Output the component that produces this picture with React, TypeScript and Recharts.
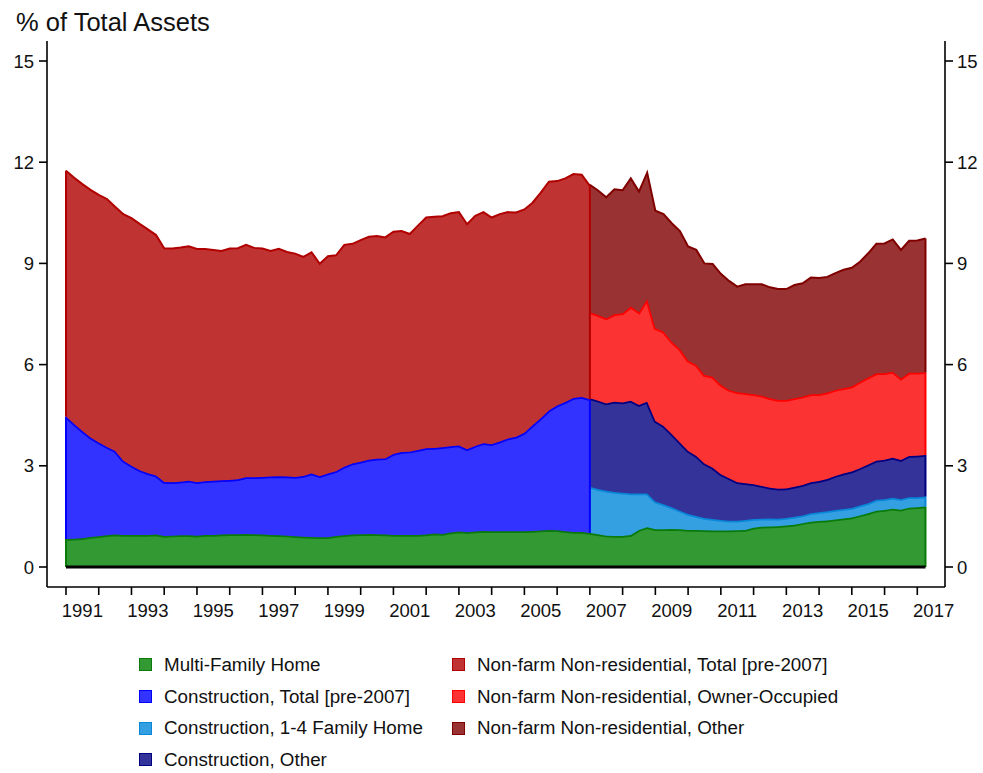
import { Area, AreaChart, ReferenceLine, XAxis, YAxis } from "recharts";

// quarterly shares of total assets (%), 1991Q1 .. 2017Q2
const START_YEAR = 1991;
const SPLIT_INDEX = 64; // 2007Q1, where the detailed breakdown begins

const yearTicks = [
  1991, 1992, 1993, 1994, 1995, 1996, 1997, 1998, 1999, 2000, 2001, 2002, 2003, 2004,
  2005, 2006, 2007, 2008, 2009, 2010, 2011, 2012, 2013, 2014, 2015, 2016, 2017,
];
const valueTicks = [0, 3, 6, 9, 12, 15];

const multiFamily = [
  0.83, 0.84, 0.85, 0.89, 0.91, 0.94, 0.96, 0.95, 0.95, 0.95,
  0.95, 0.96, 0.92, 0.93, 0.94, 0.94, 0.93, 0.95, 0.95, 0.96,
  0.97, 0.97, 0.98, 0.97, 0.96, 0.95, 0.94, 0.93, 0.91, 0.9,
  0.89, 0.88, 0.88, 0.92, 0.94, 0.96, 0.97, 0.98, 0.97, 0.96,
  0.95, 0.95, 0.95, 0.95, 0.96, 0.99, 0.98, 1.02, 1.05, 1.03,
  1.05, 1.07, 1.06, 1.06, 1.06, 1.06, 1.06, 1.07, 1.08, 1.1,
  1.09, 1.06, 1.04, 1.04, 1.01,
  0.97, 0.93, 0.92, 0.92, 0.95, 1.1, 1.18, 1.12, 1.12, 1.13,
  1.12, 1.1, 1.1, 1.09, 1.08, 1.08, 1.08, 1.09, 1.1, 1.16,
  1.19, 1.2, 1.21, 1.23, 1.25, 1.3, 1.34, 1.36, 1.38, 1.41,
  1.44, 1.47, 1.53, 1.59, 1.67, 1.69, 1.73, 1.7, 1.76, 1.77, 1.79,
];

// pre-2007 series (1991Q1 .. 2007Q1)
const constructionTotal = [
  3.63, 3.4, 3.18, 2.95, 2.78, 2.62, 2.48, 2.2, 2.05, 1.92,
  1.83, 1.75, 1.6, 1.58, 1.59, 1.62, 1.58, 1.59, 1.61, 1.61,
  1.61, 1.63, 1.68, 1.69, 1.71, 1.73, 1.75, 1.75, 1.76, 1.8,
  1.88, 1.81, 1.89, 1.92, 2.03, 2.11, 2.15, 2.2, 2.24, 2.26,
  2.4, 2.46, 2.47, 2.52, 2.56, 2.54, 2.57, 2.56, 2.55, 2.46,
  2.54, 2.6, 2.58, 2.66, 2.75, 2.8, 2.92, 3.13, 3.33, 3.54,
  3.7, 3.83, 3.97, 4.0, 3.96,
];
const nonfarmTotal = [
  7.29, 7.3, 7.32, 7.34, 7.34, 7.35, 7.24, 7.31, 7.34, 7.3,
  7.23, 7.13, 6.93, 6.93, 6.94, 6.95, 6.92, 6.89, 6.84, 6.8,
  6.86, 6.85, 6.89, 6.8, 6.77, 6.69, 6.74, 6.66, 6.62, 6.49,
  6.56, 6.3, 6.44, 6.4, 6.58, 6.51, 6.57, 6.61, 6.6, 6.55,
  6.59, 6.55, 6.45, 6.65, 6.84, 6.85, 6.85, 6.91, 6.92, 6.67,
  6.82, 6.85, 6.72, 6.74, 6.71, 6.65, 6.62, 6.6, 6.69, 6.78,
  6.65, 6.63, 6.64, 6.59, 6.33,
];

// 2007Q1 onwards
const constructionHome = [
  1.37, 1.34, 1.33, 1.3, 1.28, 1.23, 1.08, 1.0, 0.82, 0.74,
  0.64, 0.55, 0.47, 0.41, 0.36, 0.34, 0.31, 0.29, 0.28, 0.29,
  0.26, 0.24, 0.24, 0.22, 0.22, 0.24, 0.23, 0.25, 0.26, 0.27,
  0.28, 0.28, 0.28, 0.29, 0.3, 0.32, 0.32, 0.32, 0.31, 0.31,
  0.3, 0.3,
];
const constructionOther = [
  2.62, 2.62, 2.59, 2.68, 2.68, 2.75, 2.62, 2.72, 2.39, 2.32,
  2.17, 2.02, 1.87, 1.78, 1.62, 1.52, 1.36, 1.26, 1.14, 1.09,
  1.03, 0.97, 0.91, 0.89, 0.88, 0.89, 0.9, 0.92, 0.93, 0.96,
  1.01, 1.05, 1.08, 1.11, 1.15, 1.16, 1.17, 1.19, 1.16, 1.22,
  1.23, 1.23,
];
const nonfarmOwner = [
  2.55, 2.54, 2.52, 2.59, 2.64, 2.79, 2.75, 3.04, 2.75, 2.8,
  2.74, 2.77, 2.68, 2.7, 2.62, 2.7, 2.65, 2.62, 2.67, 2.67,
  2.67, 2.68, 2.65, 2.63, 2.62, 2.62, 2.62, 2.61, 2.57, 2.56,
  2.55, 2.53, 2.52, 2.56, 2.58, 2.59, 2.56, 2.55, 2.42, 2.47,
  2.46, 2.45,
];
const nonfarmOther = [
  3.78, 3.69, 3.59, 3.71, 3.65, 3.8, 3.58, 3.75, 3.48, 3.48,
  3.51, 3.5, 3.38, 3.41, 3.31, 3.34, 3.29, 3.23, 3.13, 3.23,
  3.26, 3.3, 3.29, 3.29, 3.29, 3.36, 3.36, 3.46, 3.45, 3.43,
  3.46, 3.51, 3.52, 3.56, 3.68, 3.84, 3.85, 3.92, 3.81, 3.91,
  3.92, 3.97,
];

const series = [
  { key: "mf", name: "Multi-Family Home", fill: "#339933", stroke: "#0a7a0a" },
  { key: "conTotal", name: "Construction, Total [pre-2007]", fill: "#3333ff", stroke: "#0000ff" },
  { key: "conHome", name: "Construction, 1-4 Family Home", fill: "#34a0e2", stroke: "#0a86d8" },
  { key: "conOther", name: "Construction, Other", fill: "#333399", stroke: "#000080" },
  { key: "nfTotal", name: "Non-farm Non-residential, Total [pre-2007]", fill: "#c03333", stroke: "#b00000" },
  { key: "nfOwner", name: "Non-farm Non-residential, Owner-Occupied", fill: "#fc3333", stroke: "#ff0000" },
  { key: "nfOther", name: "Non-farm Non-residential, Other", fill: "#993333", stroke: "#800000" },
];
const colorOf = (key: string) => series.find((s) => s.key === key)!;

const quarterTime = (i: number) => START_YEAR + i / 4;

const rows: any[] = [];
for (let i = 0; i <= SPLIT_INDEX; i++) {
  rows.push({
    t: quarterTime(i), mf: multiFamily[i], conTotal: constructionTotal[i], nfTotal: nonfarmTotal[i],
    conHome: null, conOther: null, nfOwner: null, nfOther: null,
  });
}
for (let j = 0; j < constructionHome.length; j++) {
  const i = SPLIT_INDEX + j;
  rows.push({
    t: quarterTime(i), mf: multiFamily[i], conTotal: null, nfTotal: null,
    conHome: constructionHome[j], conOther: constructionOther[j], nfOwner: nonfarmOwner[j], nfOther: nonfarmOther[j],
  });
}
const LAST = multiFamily.length - 1;

// outline the vertical sides of the stacked bands, as the original does
function stackEdges(t: number, parts: { key: string; v: number }[]) {
  let base = 0;
  return parts.map((p) => {
    const seg = { t, from: base, to: base + p.v, color: colorOf(p.key).stroke };
    base += p.v;
    return seg;
  });
}
const edges = [
  ...stackEdges(quarterTime(0), [
    { key: "mf", v: multiFamily[0] },
    { key: "conTotal", v: constructionTotal[0] },
    { key: "nfTotal", v: nonfarmTotal[0] },
  ]),
  ...stackEdges(quarterTime(SPLIT_INDEX), [
    { key: "mf", v: multiFamily[SPLIT_INDEX] },
    { key: "conTotal", v: constructionTotal[SPLIT_INDEX] },
    { key: "nfTotal", v: nonfarmTotal[SPLIT_INDEX] },
  ]).slice(1),
  ...stackEdges(quarterTime(LAST), [
    { key: "mf", v: multiFamily[LAST] },
    { key: "conHome", v: constructionHome[constructionHome.length - 1] },
    { key: "conOther", v: constructionOther[constructionOther.length - 1] },
    { key: "nfOwner", v: nonfarmOwner[nonfarmOwner.length - 1] },
    { key: "nfOther", v: nonfarmOther[nonfarmOther.length - 1] },
  ]),
];

const W = 983;
const H = 773;
const Y_LEFT_W = 47;
const Y_RIGHT_W = 38;
const X_DOMAIN: [number, number] = [1990.42, 2017.846];
const Y_DOMAIN: [number, number] = [-0.593, 15.593];
const PLOT_W = W - Y_LEFT_W - Y_RIGHT_W;
const HALF_YEAR_PX = PLOT_W / (X_DOMAIN[1] - X_DOMAIN[0]) / 2;

const FONT = "'Liberation Sans', Arial, Helvetica, sans-serif";
const axisLine = { stroke: "#000", strokeWidth: 1.6 };
const tickStyle = { fontSize: 18.5, fill: "#111", fontFamily: FONT };

function YearTick(props: any) {
  const { x, y, payload } = props;
  if (payload.value % 2 === 0) return <g />;
  return (
    <text x={x + HALF_YEAR_PX} y={y} dy={20} textAnchor="middle" {...tickStyle}>
      {payload.value}
    </text>
  );
}

const legendCols = [
  ["mf", "conTotal", "conHome", "conOther"],
  ["nfTotal", "nfOwner", "nfOther"],
];
const legendLeft = [139, 452];

export default function App() {
  return (
    <div style={{ position: "absolute", left: 0, top: 0, width: W, height: H, background: "#fff", fontFamily: FONT }}>
      <div style={{ position: "absolute", left: 16, top: 8, fontSize: 25.5, lineHeight: "28px", color: "#111" }}>
        % of Total Assets
      </div>
      <AreaChart width={W} height={H} data={rows} margin={{ top: 41, right: 0, left: 0, bottom: 146 }}>
        <XAxis
          dataKey="t"
          type="number"
          domain={X_DOMAIN}
          allowDataOverflow
          ticks={yearTicks}
          interval={0}
          height={40}
          tickSize={8}
          axisLine={axisLine}
          tickLine={axisLine}
          tick={<YearTick />}
        />
        <YAxis
          yAxisId="left"
          type="number"
          domain={Y_DOMAIN}
          allowDataOverflow
          ticks={valueTicks}
          interval={0}
          width={Y_LEFT_W}
          tickSize={8}
          tickMargin={5}
          axisLine={axisLine}
          tickLine={axisLine}
          tick={tickStyle}
        />
        <YAxis
          yAxisId="right"
          orientation="right"
          type="number"
          domain={Y_DOMAIN}
          allowDataOverflow
          ticks={valueTicks}
          interval={0}
          width={Y_RIGHT_W}
          tickSize={8}
          tickMargin={4}
          axisLine={axisLine}
          tickLine={axisLine}
          tick={{ ...tickStyle, textAnchor: "start" }}
        />
        {series.map((s) => (
          <Area
            key={s.key}
            yAxisId="left"
            dataKey={s.key}
            name={s.name}
            stackId="a"
            type="linear"
            fill={s.fill}
            fillOpacity={1}
            stroke={s.stroke}
            strokeWidth={s.key === "nfTotal" || s.key === "nfOther" ? 2 : 3.5}
            isAnimationActive={false}
            dot={false}
            activeDot={false}
          />
        ))}
        {edges.map((e, i) => (
          <ReferenceLine
            key={i}
            yAxisId="left"
            segment={[{ x: e.t, y: e.from }, { x: e.t, y: e.to }]}
            stroke={e.color}
            strokeWidth={2}
          />
        ))}
        <ReferenceLine
          yAxisId="left"
          segment={[{ x: quarterTime(0), y: 0 }, { x: quarterTime(LAST), y: 0 }]}
          stroke="#000"
          strokeWidth={3}
        />
      </AreaChart>
      {legendCols.map((col, c) => (
        <div key={c} style={{ position: "absolute", left: legendLeft[c], top: 649 }}>
          {col.map((key) => {
            const s = colorOf(key);
            return (
              <div key={key} style={{ display: "flex", alignItems: "center", height: 31.7 }}>
                <div
                  style={{
                    width: 11, height: 11, background: s.fill, border: `1.5px solid ${s.stroke}`,
                    marginRight: 12, flex: "none",
                  }}
                />
                <span style={{ fontSize: 18.8, color: "#111", whiteSpace: "nowrap" }}>{s.name}</span>
              </div>
            );
          })}
        </div>
      ))}
    </div>
  );
}
